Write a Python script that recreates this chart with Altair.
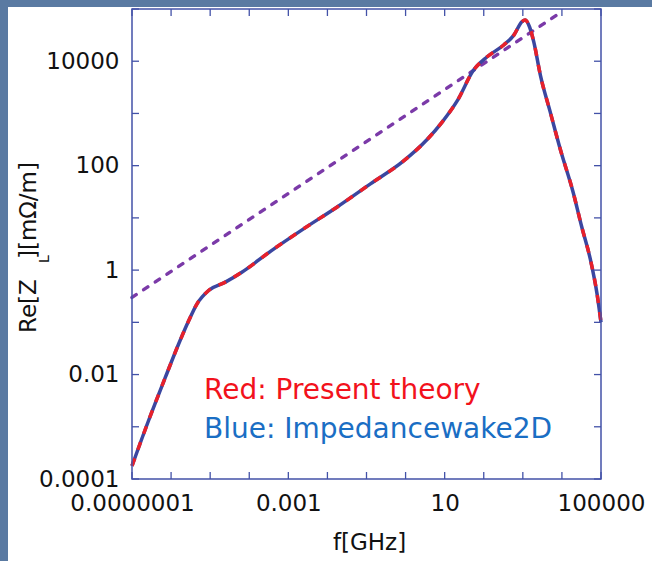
import altair as alt
import pandas as pd

# Main curve (Re[Z_L] vs f)
freq = [1.0e-7, 2.63e-7, 7.08e-7, 1.55e-6, 2.82e-6, 4.57e-6, 9.12e-6, 2.45e-5,
        6.46e-5, 3.63e-4, 2.45e-3, 0.0178, 0.126, 0.891, 3.55, 8.51, 20.9, 55.0,
        120, 324, 589, 955, 1148, 1479, 1905, 2818, 5012, 9120, 19055, 32359,
        53703, 79433, 100000]
re_z = [1.78e-4, 1.29e-3, 8.71e-3, 0.038, 0.107, 0.224, 0.407, 0.589,
        0.912, 2.34, 6.17, 16.2, 44.7, 123, 316, 676, 1738, 6761,
        12023, 20417, 31623, 57544, 61660, 45709, 23442, 5370, 1072, 204, 32.4, 6.61,
        1.58, 0.347, 0.1]

# Dotted sqrt(f) reference line
ref_f = [1e-7, 1e4]
ref_z = [0.30, 89000]

# Axis ticks and labels
x_ticks = [1e-7, 1e-6, 1e-5, 1e-4, 1e-3, 1e-2, 1e-1, 1, 10, 100, 1e3, 1e4, 1e5]
y_ticks = [1e-4, 1e-3, 1e-2, 1e-1, 1, 10, 100, 1e3, 1e4, 1e5]
x_labels = [1e-7, 1e-3, 10, 1e5]
y_labels = [1e-4, 1e-2, 1, 100, 1e4]

W, H = 469, 470
FRAME = "#4352a8"
FONT = "DejaVu Sans"

xs = alt.Scale(type="log", domain=[1e-7, 1e5], nice=False)
ys = alt.Scale(type="log", domain=[1e-4, 1e5], nice=False)
xaxis = alt.Axis(values=x_labels, format=".7~f", title=None, grid=False, ticks=False,
                 domain=False, labelFont=FONT, labelFontSize=23, labelColor="#111111",
                 labelPadding=13, zindex=1, labelFlush=False, labelOverlap=False)
yaxis = alt.Axis(values=y_labels, format=".4~f", title=None, grid=False, ticks=False,
                 domain=False, labelFont=FONT, labelFontSize=23, labelColor="#111111",
                 labelPadding=13, zindex=1, labelOverlap=False)
X = alt.X("f:Q", scale=xs, axis=xaxis)
Y = alt.Y("z:Q", scale=ys, axis=yaxis)

one = pd.DataFrame({"a": [0]})
curve = pd.DataFrame({"f": freq, "z": re_z})
ref = pd.DataFrame({"f": ref_f, "z": ref_z})
xt = pd.DataFrame({"f": x_ticks})
yt = pd.DataFrame({"z": y_ticks})

panel = alt.Chart(one).mark_rect(color="white").encode(
    x=alt.value(-124), x2=alt.value(W + 60), y=alt.value(-2), y2=alt.value(H + 90))

purple = alt.Chart(ref).mark_line(color="#7b3aa8", strokeWidth=3.5, strokeDash=[5, 9],
                                  strokeCap="round").encode(x=X, y=Y)
blue = alt.Chart(curve).mark_line(color="#3b46a0", strokeWidth=3.5,
                                  interpolate="monotone").encode(x=X, y=Y)
red = alt.Chart(curve).mark_line(color="#e8202a", strokeWidth=3.5, strokeDash=[8, 9],
                                 interpolate="monotone").encode(x=X, y=Y)

tk = dict(color=FRAME, strokeWidth=1.3)
t_top = alt.Chart(xt).mark_rule(**tk).encode(x=X, y=alt.value(0), y2=alt.value(7))
t_bot = alt.Chart(xt).mark_rule(**tk).encode(x=X, y=alt.value(H), y2=alt.value(H - 7))
t_left = alt.Chart(yt).mark_rule(**tk).encode(y=Y, x=alt.value(0), x2=alt.value(7))
t_right = alt.Chart(yt).mark_rule(**tk).encode(y=Y, x=alt.value(W), x2=alt.value(W - 7))

frame = alt.Chart(one).mark_rect(fillOpacity=0, stroke=FRAME, strokeWidth=1.5).encode(
    x=alt.value(0), x2=alt.value(W), y=alt.value(0), y2=alt.value(H))

leg_red = alt.Chart(one).mark_text(text="Red: Present theory", color="#f2121c", font=FONT,
                                   fontSize=28, align="left", baseline="alphabetic").encode(
    x=alt.value(72), y=alt.value(390))
leg_blue = alt.Chart(one).mark_text(text="Blue: Impedancewake2D", color="#1a6ec4", font=FONT,
                                    fontSize=28, align="left", baseline="alphabetic").encode(
    x=alt.value(72), y=alt.value(429))

x_title = alt.Chart(one).mark_text(text="f[GHz]", color="#111111", font=FONT, fontSize=23,
                                   align="center", baseline="middle").encode(
    x=alt.value(W / 2 + 3), y=alt.value(534))
y_t1 = alt.Chart(one).mark_text(text="Re[Z", color="#111111", font=FONT, fontSize=23,
                                angle=270, align="left", baseline="alphabetic").encode(
    x=alt.value(-96), y=alt.value(324))
y_sub = alt.Chart(one).mark_text(text="L", color="#111111", font=FONT, fontSize=14,
                                 angle=270, align="center", baseline="alphabetic").encode(
    x=alt.value(-83), y=alt.value(250))
y_t2 = alt.Chart(one).mark_text(text="][mΩ/m]", color="#111111", font=FONT, fontSize=23,
                                angle=270, align="right", baseline="alphabetic").encode(
    x=alt.value(-96), y=alt.value(153))

chart = alt.layer(
    panel, purple, blue, red, t_top, t_bot, t_left, t_right, frame,
    leg_red, leg_blue, x_title, y_t1, y_sub, y_t2
).properties(
    width=W, height=H,
    padding={"left": 132, "top": 9, "right": 51, "bottom": 82},
    autosize="none",
    background="#5a7aa2",
).configure_view(strokeWidth=0)

chart.save("out.html", embed_options={"renderer": "svg", "actions": False})
